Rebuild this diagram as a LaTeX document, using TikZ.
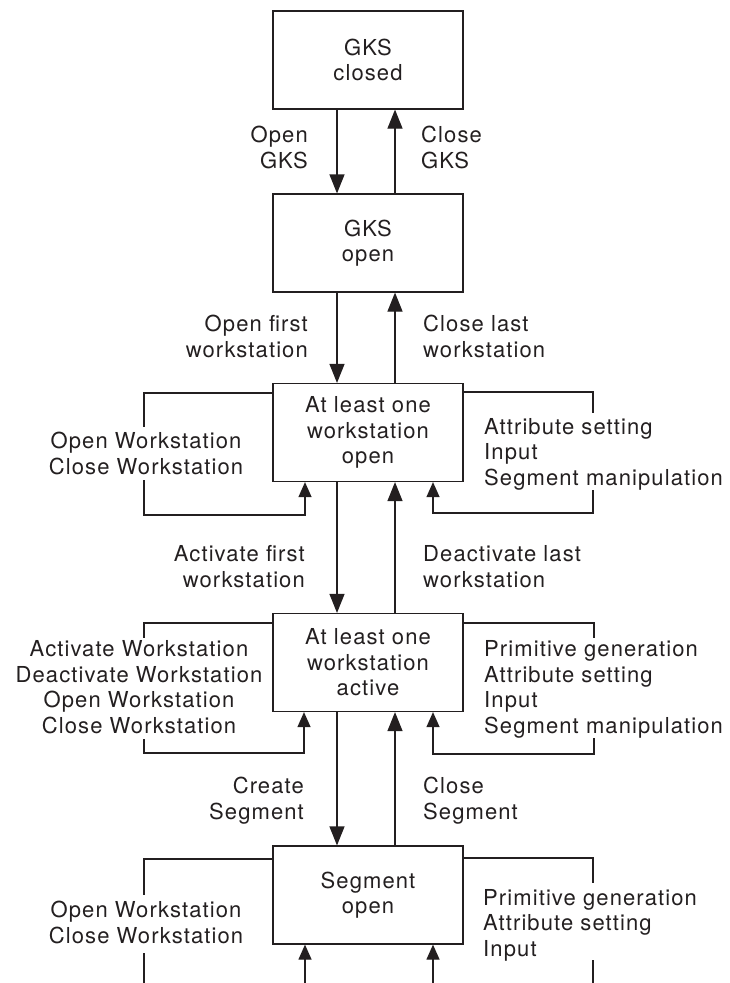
\documentclass[tikz,border=0pt]{standalone}
\usepackage{fontspec}
\setmainfont{TeX Gyre Heros}[LetterSpace=5]
\usetikzlibrary{arrows.meta}
\definecolor{ink}{RGB}{35,31,32}
\newcommand{\lbl}{\fontsize{22pt}{25.5pt}\selectfont}
\begin{document}
\begin{tikzpicture}[x=1pt,y=-1pt,
  state/.style={draw=ink, line width=1.2pt, minimum width=190pt, minimum height=98pt,
                inner sep=0pt, align=center, font=\lbl, text=ink},
  lab/.style={inner sep=0pt, font=\lbl, text=ink},
  wire/.style={draw=ink, line width=1.2pt},
  flow/.style={wire, -{Triangle[length=19pt,width=15pt]}},
  back/.style={wire, -{Triangle[length=15pt,width=13pt]}}]
\useasboundingbox (0,0) rectangle (730,983);

% states
\node[state] (b1) at (368,60)    {GKS\\closed};
\node[state] (b2) at (368,243)   {GKS\\open};
\node[state] (b3) at (368,432.5) {At least one\\workstation\\open};
\node[state] (b4) at (368,662.5) {At least one\\workstation\\active};
\node[state] (b5) at (368,895)   {Segment\\open};

% columns of the vertical transitions
\coordinate (xd) at (337,0);
\coordinate (xu) at (395,0);

\draw[flow] (b1.south -| xd) -- (b2.north -| xd);
\draw[flow] (b2.north -| xu) -- (b1.south -| xu);
\draw[flow] (b2.south -| xd) -- (b3.north -| xd);
\draw[flow] (b3.north -| xu) -- (b2.south -| xu);
\draw[flow] (b3.south -| xd) -- (b4.north -| xd);
\draw[flow] (b4.north -| xu) -- (b3.south -| xu);
\draw[flow] (b4.south -| xd) -- (b5.north -| xd);
\draw[flow] (b5.north -| xu) -- (b4.south -| xu);

% transition labels (anchored at the baseline of their last line)
\node[lab, align=right, anchor=base east] (t1) at (308,168) {Open\\GKS};
\node[lab, align=left,  anchor=base west] (t2) at (421,168) {Close\\GKS};
\node[lab, align=right, anchor=base east] (t3) at (308,357) {Open first\\workstation};
\node[lab, align=left,  anchor=base west] (t4) at (423,357) {Close last\\workstation};
\node[lab, align=right, anchor=base east] (t5) at (305,587) {Activate first\\workstation};
\node[lab, align=left,  anchor=base west] (t6) at (423,587) {Deactivate last\\workstation};
\node[lab, align=right, anchor=base east] (t7) at (304,819) {Create\\Segment};
\node[lab, align=left,  anchor=base west] (t8) at (423,819) {Close\\Segment};

% self loops of "at least one workstation open"
\coordinate (a1) at (144,393); \coordinate (a2) at (144,427);
\coordinate (a3) at (144,480); \coordinate (a4) at (144,515);
\coordinate (a5) at (305,515);
\draw[wire] (b3.west |- a1) -- (a1) -- (a2);
\draw[back] (a3) -- (a4) -- (a5) -- (b3.south -| a5);
\node[lab, align=center, anchor=base] (s1) at (146,474) {Open Workstation\\Close Workstation};

\coordinate (c1) at (593,392); \coordinate (c2) at (593,413);
\coordinate (c3) at (593,490); \coordinate (c4) at (593,513);
\coordinate (c5) at (433,513);
\draw[wire] (b3.east |- c1) -- (c1) -- (c2);
\draw[back] (c3) -- (c4) -- (c5) -- (b3.south -| c5);
\node[lab, align=left, anchor=base west] (s2) at (484,485) {Attribute setting\\Input\\Segment manipulation};

% self loops of "at least one workstation active"
\coordinate (d1) at (144,623); \coordinate (d2) at (144,638);
\coordinate (d3) at (144,739); \coordinate (d4) at (144,753);
\coordinate (d5) at (304,753);
\draw[wire] (b4.west |- d1) -- (d1) -- (d2);
\draw[back] (d3) -- (d4) -- (d5) -- (b4.south -| d5);
\node[lab, align=center, anchor=base] (s3) at (139,733) {Activate Workstation\\Deactivate Workstation\\Open Workstation\\Close Workstation};

\coordinate (e1) at (594,623); \coordinate (e2) at (594,638);
\coordinate (e3) at (594,738); \coordinate (e4) at (594,754);
\coordinate (e5) at (433,754);
\draw[wire] (b4.east |- e1) -- (e1) -- (e2);
\draw[back] (e3) -- (e4) -- (e5) -- (b4.south -| e5);
\node[lab, align=left, anchor=base west] (s4) at (484,733) {Primitive generation\\Attribute setting\\Input\\Segment manipulation};

% loops of "segment open", continuing below
\coordinate (f1) at (144,859); \coordinate (f2) at (144,895);
\coordinate (f3) at (144,953); \coordinate (f4) at (144,983);
\draw[wire] (b5.west |- f1) -- (f1) -- (f2);
\draw[wire] (f3) -- (f4);
\node[lab, align=center, anchor=base] (s5) at (146,943) {Open Workstation\\Close Workstation};

\coordinate (g1) at (593,858); \coordinate (g2) at (593,883);
\coordinate (g3) at (593,960); \coordinate (g4) at (593,983);
\draw[wire] (b5.east |- g1) -- (g1) -- (g2);
\draw[wire] (g3) -- (g4);
\node[lab, align=left, anchor=base west] (s6) at (483,956) {Primitive generation\\Attribute setting\\Input};

\coordinate (h1) at (305,983);
\coordinate (h2) at (433,983);
\draw[back] (h1) -- (b5.south -| h1);
\draw[back] (h2) -- (b5.south -| h2);
\end{tikzpicture}
\end{document}
